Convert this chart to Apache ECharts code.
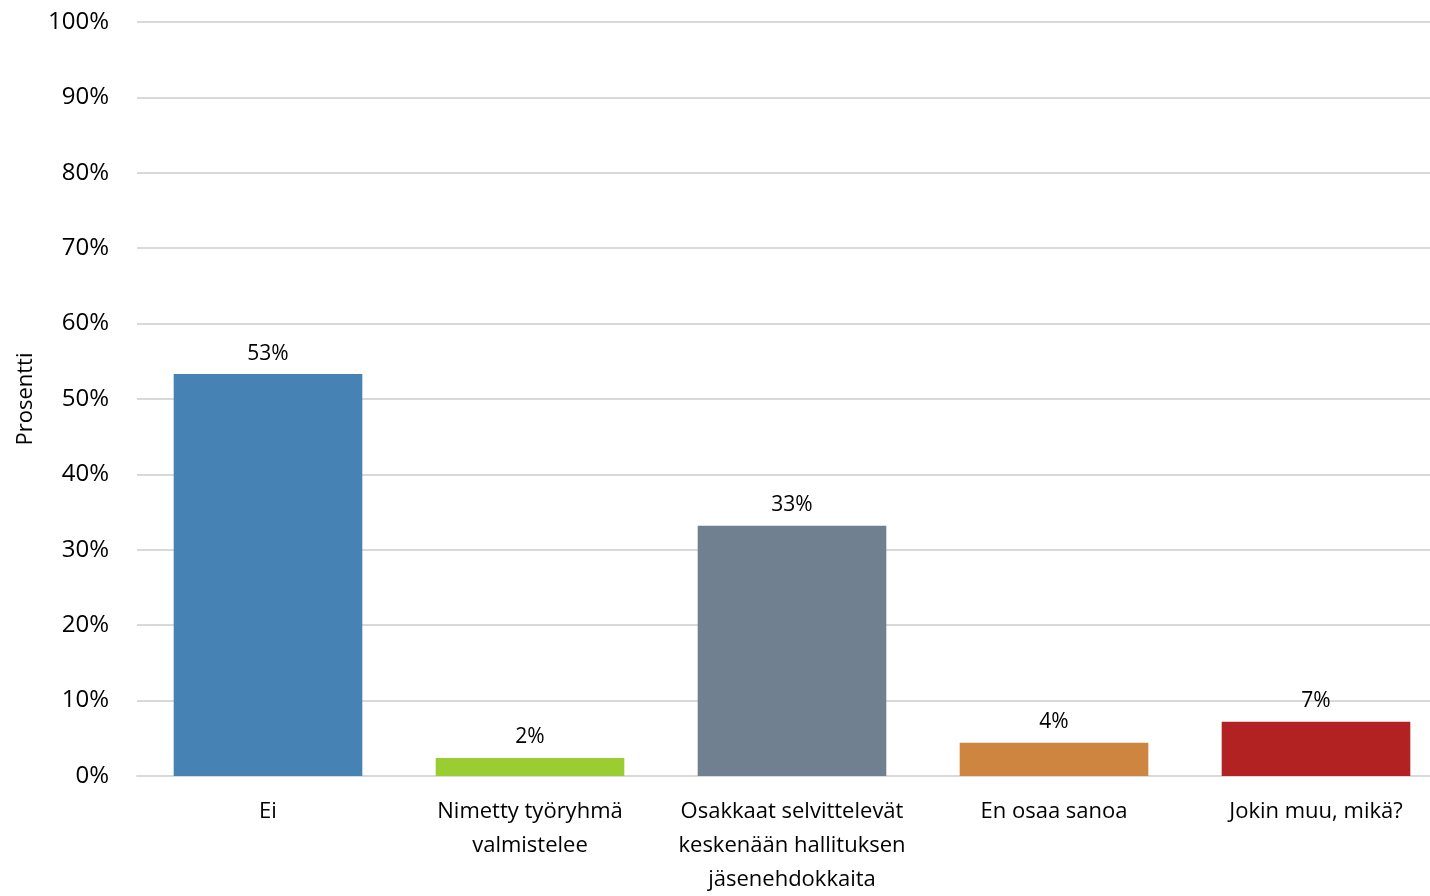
<!DOCTYPE html>
<html>
<head>
<meta charset="utf-8">
<script src="https://cdn.jsdelivr.net/npm/echarts@6/dist/echarts.min.js"></script>
<style>
  html, body { margin: 0; padding: 0; background: #fff; }
  #chart { width: 1430px; height: 896px; }
</style>
</head>
<body>
<div id="chart"></div>
<script>
// Answer categories (line breaks as shown under the axis)
const categories = [
  'Ei',
  'Nimetty työryhmä\nvalmistelee',
  'Osakkaat selvittelevät\nkeskenään hallituksen\njäsenehdokkaita',
  'En osaa sanoa',
  'Jokin muu, mikä?'
];
// Share of respondents, percent
const values = [53.3, 2.4, 33.2, 4.4, 7.2];
const barColors = ['#4682B4', '#9ACD32', '#708090', '#CD853F', '#B22222'];
const yTicks = [0, 10, 20, 30, 40, 50, 60, 70, 80, 90, 100];

const FONT = '"Open Sans", "Liberation Sans", sans-serif';

const chart = echarts.init(document.getElementById('chart'), null, { renderer: 'canvas' });
chart.setOption({
  animation: false,
  backgroundColor: '#ffffff',
  grid: {
    left: 137, top: 22, width: 1310, height: 754,
    containLabel: false,
    outerBoundsMode: 'none'
  },
  xAxis: {
    type: 'category',
    data: categories,
    axisLine: { show: true, lineStyle: { color: '#d9d9d9', width: 2 } },
    axisTick: { show: false },
    axisLabel: {
      interval: 0,
      color: '#000',
      fontFamily: FONT,
      fontSize: 22,
      lineHeight: 34,
      margin: 19,
      align: 'center'
    }
  },
  yAxis: {
    type: 'value',
    min: yTicks[0],
    max: yTicks[yTicks.length - 1],
    interval: 10,
    name: 'Prosentti',
    nameLocation: 'middle',
    nameRotate: 90,
    nameGap: 100,
    nameTextStyle: { color: '#000', fontFamily: FONT, fontSize: 22 },
    axisLine: { show: false },
    axisTick: { show: false },
    axisLabel: {
      color: '#000',
      fontFamily: FONT,
      fontSize: 24,
      margin: 28,
      formatter: v => v + '%'
    },
    splitLine: { lineStyle: { color: '#d9d9d9', width: 2 } }
  },
  series: [{
    type: 'bar',
    data: values.map((v, i) => ({ value: v, itemStyle: { color: barColors[i] } })),
    barWidth: '72%',
    label: {
      show: true,
      position: 'top',
      distance: 10,
      color: '#000',
      fontFamily: FONT,
      fontSize: 21,
      formatter: p => Math.round(p.value) + '%'
    }
  }]
});
</script>
</body>
</html>
